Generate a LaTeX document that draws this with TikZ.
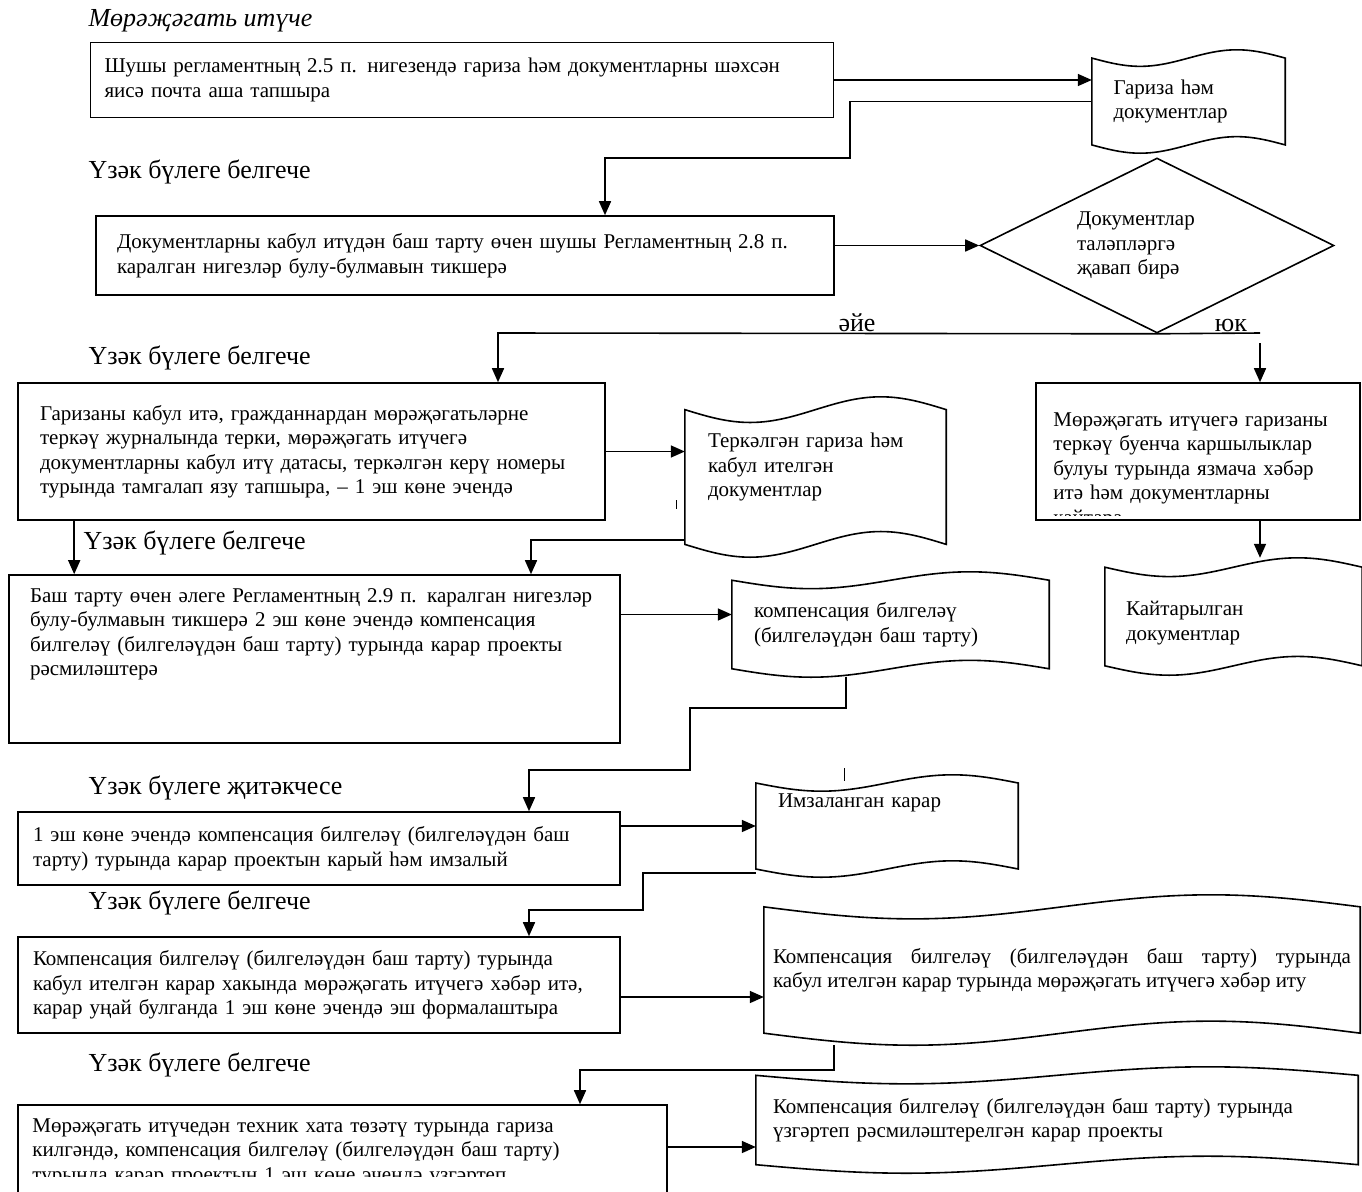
\documentclass[tikz,border=0pt]{standalone}
\usepackage{fontspec}
\setmainfont{Liberation Serif}
\usetikzlibrary{arrows.meta,calc,positioning,shapes.geometric}
\newcommand{\lbl}{\fontsize{26}{30}\selectfont}
\newcommand{\tape}[1]{%
  \draw[line width=1.6pt] let \p1=(#1.north west), \p2=(#1.south east),
    \n1={(\x2-\x1)/4}, \n2={0.08*(\y1-\y2)} in
    (\x1,\y1-\n2) sin (\x1+\n1,\y1-2*\n2) cos (\x1+2*\n1,\y1-\n2)
    sin (\x1+3*\n1,\y1) cos (\x2,\y1-\n2) -- (\x2,\y2+\n2)
    sin (\x2-\n1,\y2+2*\n2) cos (\x2-2*\n1,\y2+\n2)
    sin (\x2-3*\n1,\y2) cos (\x1,\y2+\n2) -- cycle;}

\begin{document}
\begin{tikzpicture}[x=1pt, y=-1pt,
  font=\fontsize{21}{24.5}\selectfont,
  blk/.style={draw, line width=1.6pt, inner sep=0pt, align=left},
  tp/.style={inner sep=0pt, align=left},
  dia/.style={diamond, draw, line width=1.6pt, aspect=2, inner sep=0pt,
              minimum width=354pt, minimum height=175pt, align=left, text width=160pt},
  hd/.style={anchor=west, font=\lbl},
  pf/.style={-{Triangle[length=14pt,width=12pt]}, line width=1.6pt},
  ln/.style={line width=1.6pt}
]
\useasboundingbox (0,0) rectangle (1362,1191);

% Гариза бирү
\node[anchor=west, font=\lbl\itshape] (mi) at (85,21) {Мөрәҗәгать итүче};
\node[blk, minimum width=743pt, minimum height=75pt, text width=715pt] (gariza) at (462,80)
  {Шушы регламентның 2.5 п. нигезендә гариза һәм документларны шәхсән\\яисә почта аша тапшыра};
\node[tp, minimum width=193pt, minimum height=103pt, text width=150pt] (gd) at (1188.5,101.5)
  {Гариза һәм\\документлар};

% Тикшерү
\node[hd] (h1) at (85,172) {Үзәк бүлеге белгече};
\node[blk, minimum width=738pt, minimum height=79pt, text width=696pt] (tikshr) at (465,255.5)
  {Документларны кабул итүдән баш тарту өчен шушы Регламентның 2.8 п.\\каралган нигезләр булу-булмавын тикшерә};
\node[dia] (dec) at (1157,245.5) {Документлар\\таләпләргә\\җавап бирә};

\coordinate (k1) at (850,158);
\coordinate (k2) at (605,158);
\coordinate (ja) at (498,333);
\coordinate (jok) at (1260,333);
\node[anchor=base, font=\lbl] (aye) at (857,331) {әйе};
\node[anchor=base, font=\lbl] (yuk) at (1231,331) {юк};

% Кабул итү
\node[hd] (h2) at (85,358) {Үзәк бүлеге белгече};
\node[blk, minimum width=587pt, minimum height=137pt, text width=543pt] (kabul) at (311.5,451.5)
  {Гаризаны кабул итә, гражданнардан мөрәҗәгатьләрне\\теркәү журналында терки, мөрәҗәгать итүчегә\\документларны кабул итү датасы, теркәлгән керү номеры\\турында тамгалап язу тапшыра, – 1 эш көне эчендә};
\node[tp, minimum width=261pt, minimum height=160pt, text width=215pt, text depth=73pt] (terk) at (815.5,477)
  {Теркәлгән гариза һәм\\кабул ителгән\\документлар};

% Кире кайтару
\node[blk, minimum width=324pt, minimum height=137pt] (kire) at (1198,451.5) {};
\begin{scope}
  \clip ([yshift=5pt]kire.south west) rectangle (kire.north east);
  \node[tp, anchor=north west, text width=300pt] (kiretx) at ([xshift=18pt,yshift=-30pt]kire.north west)
    {Мөрәҗәгать итүчегә гаризаны\\теркәү буенча каршылыклар\\булуы турында язмача хәбәр\\итә һәм документларны\\кайтара};
\end{scope}
\node[tp, minimum width=257pt, minimum height=117pt, text width=215pt, text depth=16pt] (kaytar) at (1233.5,616.5)
  {Кайтарылган\\документлар};

% Карар проекты
\node[hd] (h3) at (80,543) {Үзәк бүлеге белгече};
\node[blk, minimum width=611pt, minimum height=168pt, text width=569pt, text depth=127pt] (bash) at (314.5,659)
  {Баш тарту өчен әлеге Регламентның 2.9 п. каралган нигезләр\\булу-булмавын тикшерә 2 эш көне эчендә компенсация\\билгеләү (билгеләүдән баш тарту) турында карар проекты\\рәсмиләштерә};
\node[tp, minimum width=317pt, minimum height=105pt, text width=273pt] (komp) at (890.5,624.5)
  {компенсация билгеләү\\(билгеләүдән баш тарту)};

% Имзалау
\node[hd] (h4) at (85,788) {Үзәк бүлеге җитәкчесе};
\node[blk, minimum width=602pt, minimum height=73pt, text width=572pt] (imza) at (319,848.5)
  {1 эш көне эчендә компенсация билгеләү (билгеләүдән баш\\тарту) турында карар проектын карый һәм имзалый};
\node[tp, minimum width=262pt, minimum height=102pt, text width=218pt, text depth=50pt] (imzd) at (887,826)
  {Имзаланган карар};

% Хәбәр итү
\node[hd] (h5) at (85,903) {Үзәк бүлеге белгече};
\node[blk, minimum width=602pt, minimum height=96pt, text width=572pt] (xabar) at (319,985)
  {Компенсация билгеләү (билгеләүдән баш тарту) турында\\кабул ителгән карар хакында мөрәҗәгать итүчегә хәбәр итә,\\карар уңай булганда 1 эш көне эчендә эш формалаштыра};
\node[tp, align=justify, minimum width=596pt, minimum height=150pt, text width=578pt] (xabd) at (1062,970)
  {Компенсация билгеләү (билгеләүдән баш тарту) турында\linebreak кабул ителгән карар турында мөрәҗәгать итүчегә хәбәр иту};

% Хата төзәтү
\node[hd] (h6) at (85,1065) {Үзәк бүлеге белгече};
\node[blk, minimum width=649pt, minimum height=125pt] (texn) at (342.5,1167.5) {};
\begin{scope}
  \clip ([yshift=54pt]texn.south west) rectangle (texn.north east);
  \node[tp, anchor=north west, text width=619pt] (texntx) at ([xshift=15pt,yshift=-14pt]texn.north west)
    {Мөрәҗәгать итүчедән техник хата төзәтү турында гариза\\килгәндә, компенсация билгеләү (билгеләүдән баш тарту)\\турында карар проектын 1 эш көне эчендә үзгәртеп};
\end{scope}
\node[tp, minimum width=602pt, minimum height=106pt, text width=568pt] (uzg) at (1057,1120)
  {Компенсация билгеләү (билгеләүдән баш тарту) турында\\үзгәртеп рәсмиләштерелгән карар проекты};

\foreach \d in {gd,terk,kaytar,komp,imzd,xabd,uzg} {\tape{\d}}

% Уклар
\draw[pf] (gariza.east) -- (gariza.east -| gd.west);
\draw[pf] (gd.west) -| (k1) -- (k2) -- (k2 |- tikshr.north);
\draw[pf] (tikshr.east |- dec.west) -- (dec.west);
\draw[pf] (dec.south) -- (ja) -- (ja |- kabul.north);
\draw[ln] (dec.south) -- (jok);
\draw[pf] ([yshift=-10pt]jok) -- (jok |- kire.north);
\draw[pf] (kabul.east) -- (kabul.east -| terk.west);
\draw[pf] (kire.south -| jok) -- (jok |- kaytar.north);

\coordinate (k3) at ([xshift=57pt]kabul.south west);
\draw[pf] (k3) -- (k3 |- bash.north);
\coordinate (k4) at (531,540);
\draw[pf] (terk.west |- k4) -- (k4) -- (k4 |- bash.north);
\coordinate (kompin) at ([yshift=10pt]komp.west);
\draw[pf] (bash.east |- kompin) -- (kompin);

\coordinate (k5) at (846,708);
\coordinate (k6) at (690,708);
\coordinate (k7) at (690,770);
\coordinate (k8) at (529,770);
\draw[pf] (k5 |- komp.south) -- (k5) -- (k6) -- (k7) -- (k8) -- (k8 |- imza.north);
\draw[pf] (imza.east |- imzd.west) -- (imzd.west);

\coordinate (k9) at (643,873);
\coordinate (k10) at (643,910);
\coordinate (k11) at (529,910);
\draw[pf] (imzd.west |- k9) -- (k9) -- (k10) -- (k11) -- (k11 |- xabar.north);
\coordinate (xabin) at ([yshift=-27pt]xabd.west);
\draw[pf] (xabar.east |- xabin) -- (xabin);

\coordinate (k12) at (834,1070);
\coordinate (k13) at (580,1070);
\draw[pf] (k12 |- xabd.south) -- (k12) -- (k13) -- (k13 |- texn.north);
\coordinate (uzgin) at ([yshift=-27pt]uzg.west);
\draw[pf] (texn.east |- uzgin) -- (uzgin);

% тамгалар
\draw[line width=1pt] (676,500) -- (676,509);
\draw[line width=1pt] (844,768) -- (844,781);

\end{tikzpicture}
\end{document}
